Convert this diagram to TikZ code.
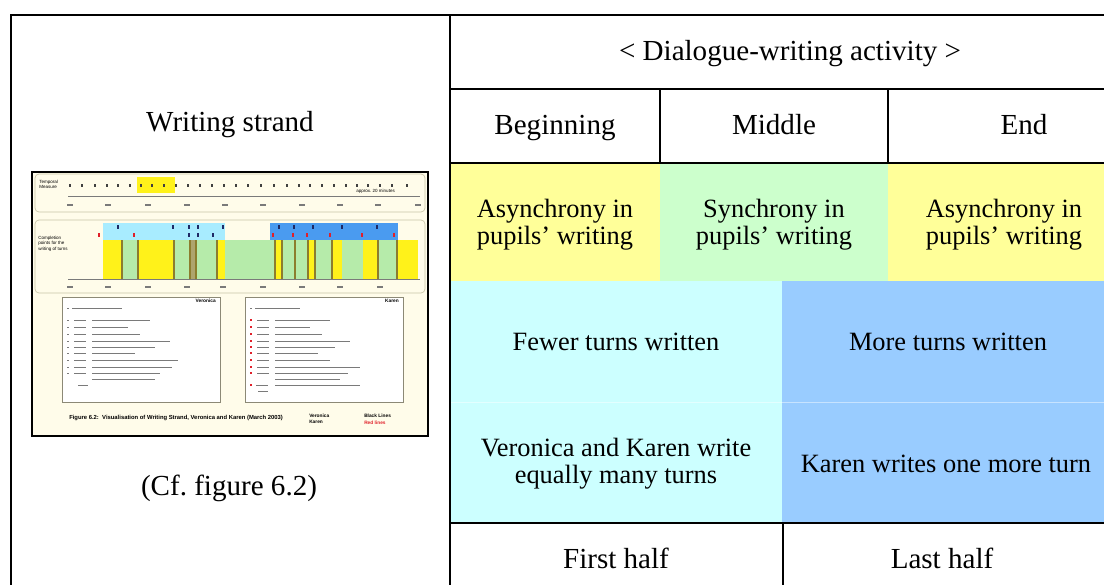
\documentclass[tikz,border=0pt]{standalone}
\usepackage{fontspec}
\setmainfont{Liberation Serif}
\newfontfamily\thumbsans{Liberation Sans}
\definecolor{cellyellow}{HTML}{FFFF99}
\definecolor{cellgreen}{HTML}{CCFFCC}
\definecolor{cellcyan}{HTML}{CCFFFF}
\definecolor{cellblue}{HTML}{99CCFF}
\definecolor{paper}{HTML}{FFFCEA}
\definecolor{panelline}{HTML}{C8C4A8}
\definecolor{barcyan}{HTML}{A8ECFF}
\definecolor{barblue}{HTML}{4A9BF0}
\definecolor{bandgreen}{HTML}{B6EBAA}
\definecolor{bandyellow}{HTML}{FFF21A}
\definecolor{bandolive}{HTML}{8C7D2E}
\definecolor{inkgray}{HTML}{7A7A7A}
\definecolor{marknavy}{HTML}{1F2A66}
\definecolor{markred}{HTML}{E0202A}
\frenchspacing
\begin{document}
\begin{tikzpicture}[x=0.75pt,y=-0.75pt,
  rule/.style={line width=1.5pt,line cap=rect},
  head/.style={font=\fontsize{21.8}{24}\selectfont,anchor=base,inner sep=0pt},
  cell/.style={font=\fontsize{19.8}{20.3}\selectfont,align=center,inner sep=0pt},
  cellbase/.style={cell,anchor=base},
  tiny/.style={font=\thumbsans\fontsize{3.4}{4}\selectfont,inner sep=0pt,align=left},
  tinybold/.style={font=\thumbsans\bfseries\fontsize{3.6}{4.2}\selectfont,inner sep=0pt},
  stroke/.style={inkgray,line width=0.6pt},
  panel/.style={draw=panelline,line width=0.5pt,rounded corners=3pt,fill=paper}]
\useasboundingbox (0,0) rectangle (1104,585);
\clip (0,0) rectangle (1104,585);

% ---------- coloured cells ----------
\fill[cellyellow] (450,163) rectangle (660,281);
\fill[cellgreen]  (660,163) rectangle (888,281);
\fill[cellyellow] (888,163) rectangle (1110,281);
\fill[cellcyan]   (450,281) rectangle (782,523);
\fill[cellblue]   (782,281) rectangle (1110,523);
\draw[white,opacity=0.45,line width=0.6pt] (450,402) -- (1110,402);

% ---------- table rules ----------
\draw[rule] (11,590) -- (11,15) -- (1110,15);
\draw[rule] (450,15) -- (450,590);
\draw[rule] (450,89) -- (1110,89);
\draw[rule] (450,163) -- (1110,163);
\draw[rule] (660,89) -- (660,163);
\draw[rule] (888,89) -- (888,163);
\draw[rule] (450,523) -- (1110,523);
\draw[rule] (783,523) -- (783,590);

% ---------- cell texts ----------
\node[head] (strand) at (230,132) {Writing strand};
\node[head] (cf) at (229,495) {(Cf. figure 6.2)};
\node[head] (activity) at (790,61) {< Dialogue-writing activity >};
\node[head] (begin) at (555,135) {Beginning};
\node[head] (middle) at (774,135) {Middle};
\node[head] (end) at (1024,135) {End};
\node[cell] (async1) at (555,225) {Asynchrony in\\pupils’ writing};
\node[cell] (sync) at (774,225) {Synchrony in\\pupils’ writing};
\node[cell] (async2) at (1004,225) {Asynchrony in\\pupils’ writing};
\node[cellbase] (fewer) at (616,350) {Fewer turns written};
\node[cellbase] (more) at (948,350) {More turns written};
\node[cell] (equal) at (616,464) {Veronica and Karen write\\equally many turns};
\node[cellbase] (oneturn) at (946,472) {Karen writes one more turn};
\node[head] (first) at (616,568) {First half};
\node[head] (last) at (942,568) {Last half};

% ---------- miniature of figure 6.2 ----------
\draw[line width=1.5pt,fill=paper] (32,172) rectangle (428,436);
% temporal measure strip
\draw[panel] (35,174) rectangle (425,212);
\fill[bandyellow] (137,177) rectangle (175,193);
\node[tiny,anchor=north west] (tm) at (39,180) {Temporal\\Measure};
\foreach \x in {70,82,95,107,118,130,141,152,164,176,188,200,212,224,236,248,261,274,287,299,310,322,334,346,357,368,380,392,407}
  \fill[black!75] (\x-1,184) rectangle (\x+1,186.5);
\draw[inkgray,line width=0.4pt] (68,196) -- (420,196);
\foreach \x in {70,108,148,187,225,263,302,340,378,418}
  \draw[stroke,line width=0.9pt] (\x-3,205) -- (\x+3,205);
\node[tiny,anchor=west] (approx) at (356,191) {approx. 20 minutes};

% completion points panel
\draw[panel] (35,220) rectangle (425,293);
\node[tiny,anchor=north west] (cp) at (38,236) {Completion\\points for the\\writing of turns};
\fill[barcyan] (103,223) rectangle (225,240);
\fill[barblue] (270,223) rectangle (398,240);
\fill[bandgreen] (103,240) rectangle (418,279);
\foreach \a/\b in {103/122,138/174,217/225,275/282,308/315,332/342,363/378,398/418}
  \fill[bandyellow] (\a,240) rectangle (\b,279);
\fill[bandolive!70] (190,240) rectangle (196,279);
\foreach \x in {122,138,174,190,196,217,275,282,295,308,315,332,378,397}
  \draw[bandolive,line width=0.8pt] (\x,240) -- (\x,279);
\foreach \x in {118,173,189,198,223,279,294,313,342,377}
  \fill[marknavy] (\x-0.8,225) rectangle (\x+0.8,229);
\foreach \x in {189,198,213}
  \fill[marknavy] (\x-0.8,233) rectangle (\x+0.8,237);
\foreach \x in {99,134,273,293,307,330,362,394}
  \fill[markred] (\x-0.8,233) rectangle (\x+0.8,237);
\draw[inkgray,line width=0.4pt] (68,279) -- (420,279);
\foreach \x in {70,108,148,187,223,263,302,340,380}
  \draw[stroke,line width=0.9pt] (\x-3,287) -- (\x+3,287);

% dialogue boxes
\draw[panelline!70!black,line width=0.5pt,fill=white] (62,297) rectangle (220,402);
\draw[panelline!70!black,line width=0.5pt,fill=white] (245,297) rectangle (403,402);
\node[tinybold,anchor=east] (vname) at (216,301) {Veronica};
\node[tinybold,anchor=east] (kname) at (399,301) {Karen};
\draw[stroke] (67,308) -- (68.5,308) (72,308) -- (122,308);
\draw[stroke] (250,308) -- (251.5,308) (255,308) -- (300,308);
\foreach \y/\l in {320/150,327/128,334/140,341/170,347/155,353/135,360/178,367/172,373/160}
  \draw[stroke] (67,\y) -- (69,\y) (74,\y) -- (86,\y) (92,\y) -- (\l,\y);
\draw[stroke] (92,379) -- (155,379) (78,385) -- (88,385);
\foreach \y in {320,327,334,341,347,353,360,367,373}
  \draw[markred,line width=0.8pt] (250,\y) -- (252,\y);
\foreach \y/\l in {320/330,327/310,334/322,341/350,347/335,353/318,360/330,367/360,373/348}
  \draw[stroke] (257,\y) -- (269,\y) (275,\y) -- (\l,\y);
\draw[stroke] (275,379) -- (340,379);
\draw[markred,line width=0.8pt] (250,385) -- (252,385);
\draw[stroke] (256,385) -- (268,385) (275,385) -- (360,385) (258,391) -- (268,391);

% caption and legend
\node[tinybold,anchor=west,font=\thumbsans\bfseries\fontsize{4.4}{5}\selectfont] (caption) at (69,418) {Figure 6.2:\ \ Visualisation of Writing Strand, Veronica and Karen (March 2003)};
\node[tinybold,anchor=north west,align=left] (legend1) at (309,414) {Veronica\\Karen};
\node[tinybold,anchor=north west] (legend2) at (364,414) {Black Lines};
\node[tinybold,anchor=north west,text=markred] (legend3) at (364,421) {Red lines};
\end{tikzpicture}
\end{document}
